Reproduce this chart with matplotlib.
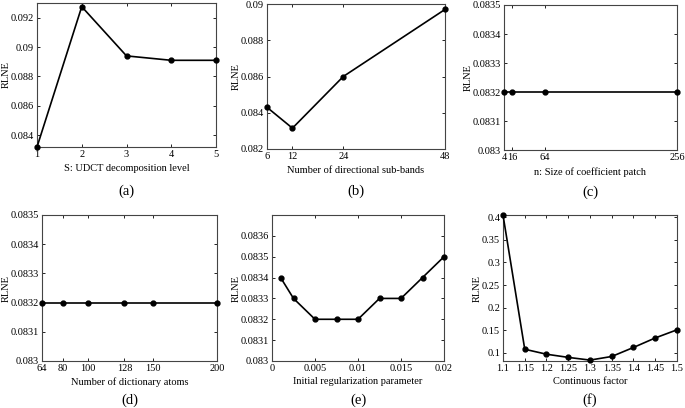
import numpy as np
import matplotlib
matplotlib.use('Agg')
import matplotlib.pyplot as plt

plt.rcParams['font.family'] = ['Liberation Serif', 'DejaVu Serif']

# (a) decomposition level
a_x = [1, 2, 3, 4, 5]
a_y = [0.0832, 0.09275, 0.0894, 0.0891, 0.0891]
# (b) directional sub-bands
b_x = [6, 12, 24, 48]
b_y = [0.0843, 0.08315, 0.0860, 0.0897]
# (c) coefficient patch size
c_x = [4, 16, 64, 256]
c_y = [0.0832, 0.0832, 0.0832, 0.0832]
# (d) dictionary atoms
d_x = [64, 80, 100, 128, 150, 200]
d_y = [0.0832, 0.0832, 0.0832, 0.0832, 0.0832, 0.0832]
# (e) initial regularization parameter
e_x = [0.001, 0.0025, 0.005, 0.0075, 0.01, 0.0125, 0.015, 0.0175, 0.02]
e_y = [0.0834, 0.0833, 0.0832, 0.0832, 0.0832, 0.0833, 0.0833, 0.0834, 0.0835]
# (f) continuous factor
f_x = [1.1, 1.15, 1.2, 1.25, 1.3, 1.35, 1.4, 1.45, 1.5]
f_y = [0.405, 0.108, 0.097, 0.090, 0.084, 0.092, 0.112, 0.133, 0.151]

W, H = 685, 408
fig = plt.figure(figsize=(W / 100, H / 100), dpi=100)


def panel(box, x, y, xlabel, tag, xlim, ylim, xticks, yticks,
          xticklabels=None, yticklabels=None, xpad=4, tagoff=44):
    l, r, t, b = box
    ax = fig.add_axes([l / W, 1 - b / H, (r - l) / W, (b - t) / H])
    ax.plot(x, y, '-o', color='black', lw=1.2, ms=3.5, clip_on=False, zorder=3)
    ax.set_xlim(xlim)
    ax.set_ylim(ylim)
    ax.set_xticks(xticks)
    ax.set_yticks(yticks)
    if xticklabels is not None:
        ax.set_xticklabels(xticklabels)
    if yticklabels is not None:
        ax.set_yticklabels(yticklabels)
    ax.tick_params(direction='in', top=True, right=True, labelsize=7.5,
                   length=2.5, width=0.6, pad=2)
    for s in ax.spines.values():
        s.set_linewidth(0.8)
        s.set_color('#444444')
    ax.set_xlabel(xlabel, fontsize=7.5, labelpad=xpad)
    ax.set_ylabel('RLNE', fontsize=7.5, labelpad=0)
    cx = (l + r) / 2 / W
    fig.text(cx, 1 - (b + tagoff) / H, tag, ha='center', va='center', fontsize=10.5)
    return ax


panel((37, 216, 3, 147), a_x, a_y, 'S: UDCT decomposition level', '(a)',
      (1, 5), (0.0832, 0.0930), a_x, [0.084, 0.086, 0.088, 0.09, 0.092],
      yticklabels=['0.084', '0.086', '0.088', '0.09', '0.092'])
panel((267, 445, 4, 149), b_x, b_y, 'Number of directional sub-bands', '(b)',
      (6, 48), (0.082, 0.09), b_x, [0.082, 0.084, 0.086, 0.088, 0.09],
      yticklabels=['0.082', '0.084', '0.086', '0.088', '0.09'], tagoff=42)
panel((504, 677, 5, 150), c_x, c_y, 'n: Size of coefficient patch', '(c)',
      (4, 256), (0.083, 0.0835), c_x,
      [0.083, 0.0831, 0.0832, 0.0833, 0.0834, 0.0835],
      yticklabels=['0.083', '0.0831', '0.0832', '0.0833', '0.0834', '0.0835'],
      tagoff=42)
panel((42, 217, 215, 361), d_x, d_y, 'Number of dictionary atoms', '(d)',
      (64, 200), (0.083, 0.0835), d_x,
      [0.083, 0.0831, 0.0832, 0.0833, 0.0834, 0.0835],
      yticklabels=['0.083', '0.0831', '0.0832', '0.0833', '0.0834', '0.0835'],
      xpad=3, tagoff=39)
panel((272, 444, 215, 361), e_x, e_y, 'Initial regularization parameter', '(e)',
      (0, 0.02), (0.083, 0.0837), [0, 0.005, 0.01, 0.015, 0.02],
      [0.083, 0.0831, 0.0832, 0.0833, 0.0834, 0.0835, 0.0836],
      xticklabels=['0', '0.005', '0.01', '0.015', '0.02'],
      yticklabels=['0.083', '0.0831', '0.0832', '0.0833', '0.0834', '0.0835', '0.0836'],
      xpad=3, tagoff=39)
panel((503, 677, 215, 361), f_x, f_y, 'Continuous factor', '(f)',
      (1.1, 1.5), (0.082, 0.405), f_x,
      [0.1, 0.15, 0.2, 0.25, 0.3, 0.35, 0.4],
      xticklabels=['1.1', '1.15', '1.2', '1.25', '1.3', '1.35', '1.4', '1.45', '1.5'],
      yticklabels=['0.1', '0.15', '0.2', '0.25', '0.3', '0.35', '0.4'],
      xpad=3, tagoff=39)

fig.savefig('out.png', dpi=100)
